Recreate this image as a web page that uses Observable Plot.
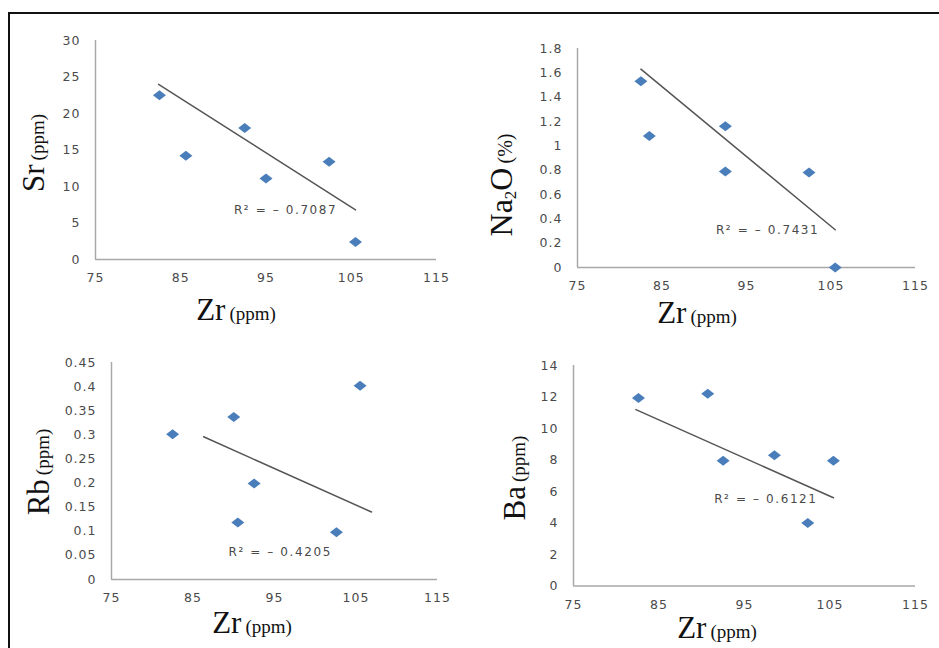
<!DOCTYPE html>
<html>
<head>
<meta charset="utf-8">
<script src="https://cdn.jsdelivr.net/npm/d3@7"></script>
<script src="https://cdn.jsdelivr.net/npm/@observablehq/plot@0.6"></script>
<style>
  body { margin: 0; background: #fff; }
  #wrap { position: relative; width: 939px; height: 648px; overflow: hidden; background: #fff; }
  .frameTop { position: absolute; left: 8px; top: 12px; width: 931px; height: 2px; background: #111; }
  .frameLeft { position: absolute; left: 8px; top: 12px; width: 2px; height: 636px; background: #111; }
  .panel { position: absolute; }
  .lab { position: absolute; font-family: "Liberation Serif", "Times New Roman", serif; color: #111; white-space: nowrap; line-height: 1; }
  .ylab { transform: translate(-50%, -50%) rotate(-90deg); }
  .xlab { transform: translate(-50%, -50%); }
  .big { font-size: 31px; }
  .small { font-size: 19px; }
  .lab sub { font-size: 17px; line-height: 0; vertical-align: -4px; }
</style>
</head>
<body>
<div id="wrap">
  <div class="frameTop"></div>
  <div class="frameLeft"></div>
  <div class="lab ylab" style="left:33px;top:153px;"><span class="big">Sr</span> <span class="small">(ppm)</span></div>
  <div class="lab xlab" style="left:236px;top:309px;"><span class="big">Zr</span> <span class="small">(ppm)</span></div>
  <div class="lab ylab" style="left:501px;top:185px;"><span class="big" style="font-size:32px">Na<sub>2</sub>O</span> <span class="small" style="font-size:20px">(%)</span></div>
  <div class="lab xlab" style="left:697px;top:312px;"><span class="big">Zr</span> <span class="small">(ppm)</span></div>
  <div class="lab ylab" style="left:38px;top:472px;"><span class="big">Rb</span> <span class="small">(ppm)</span></div>
  <div class="lab xlab" style="left:252px;top:622px;"><span class="big">Zr</span> <span class="small">(ppm)</span></div>
  <div class="lab ylab" style="left:514px;top:478px;"><span class="big">Ba</span> <span class="small">(ppm)</span></div>
  <div class="lab xlab" style="left:717px;top:627px;"><span class="big">Zr</span> <span class="small">(ppm)</span></div>
</div>
<script>
// ---- data ----
const zrTicks = [75, 85, 95, 105, 115];

const srZr = [82.5, 85.6, 92.5, 95.0, 102.4, 105.5];
const srVal = [22.5, 14.2, 18.0, 11.1, 13.4, 2.4];
const srTrendZr = [82.4, 105.5];
const srTrendVal = [24.0, 6.8];
const srTicks = [0, 5, 10, 15, 20, 25, 30];
const srR2 = "R² = – 0.7087";
const srR2Pos = [97.3, 6.7];

const naZr = [82.5, 83.5, 92.5, 92.5, 102.4, 105.5];
const naVal = [1.53, 1.08, 1.16, 0.79, 0.78, 0.0];
const naTrendZr = [82.5, 105.5];
const naTrendVal = [1.63, 0.31];
const naTicks = [0, 0.2, 0.4, 0.6, 0.8, 1, 1.2, 1.4, 1.6, 1.8];
const naR2 = "R² = – 0.7431";
const naR2Pos = [97.5, 0.31];

const rbZr = [82.5, 90.0, 90.5, 92.5, 102.6, 105.5];
const rbVal = [0.301, 0.337, 0.118, 0.199, 0.098, 0.402];
const rbTrendZr = [86.3, 106.9];
const rbTrendVal = [0.296, 0.14];
const rbTicks = [0, 0.05, 0.1, 0.15, 0.2, 0.25, 0.3, 0.35, 0.4, 0.45];
const rbR2 = "R² = – 0.4205";
const rbR2Pos = [95.7, 0.057];

const baZr = [82.6, 90.7, 92.5, 98.5, 102.4, 105.4];
const baVal = [11.93, 12.2, 7.96, 8.3, 4.0, 7.96];
const baTrendZr = [82.3, 105.4];
const baTrendVal = [11.2, 5.6];
const baTicks = [0, 2, 4, 6, 8, 10, 12, 14];
const baR2 = "R² = – 0.6121";
const baR2Pos = [97.5, 5.54];

// flattened diamond marker
const diamond = {
  draw(ctx) {
    const w = 6.5, h = 5;
    ctx.moveTo(0, -h); ctx.lineTo(w, 0); ctx.lineTo(0, h); ctx.lineTo(-w, 0); ctx.closePath();
  }
};

const fmt = d => String(+(+d).toFixed(2));

function panel(cfg) {
  const pts = cfg.xs.map((x, i) => ({x, y: cfg.ys[i]}));
  const trend = cfg.tx.map((x, i) => ({x, y: cfg.ty[i]}));
  const lab = [{x: cfg.r2pos[0], y: cfg.r2pos[1], t: cfg.r2}];
  const svg = Plot.plot({
    width: cfg.width, height: cfg.height,
    marginLeft: cfg.ml, marginRight: cfg.width - cfg.xr,
    marginTop: cfg.mt, marginBottom: cfg.height - cfg.yb,
    style: {fontFamily: "DejaVu Sans", fontSize: "12.5px", color: "#4a4a4a", background: "transparent", overflow: "visible", letterSpacing: "1px"},
    x: {domain: [75, 115], ticks: zrTicks, tickSize: 0, tickPadding: 14, label: null},
    y: {domain: [cfg.ticks[0], cfg.ticks[cfg.ticks.length - 1]], ticks: cfg.ticks, tickSize: 0, tickPadding: 15, label: null, tickFormat: fmt},
    marks: [
      Plot.ruleX([75], {stroke: "#a8a8a8", strokeWidth: 1.5}),
      Plot.ruleY([cfg.ticks[0]], {stroke: "#a8a8a8", strokeWidth: 1.5}),
      Plot.line(trend, {x: "x", y: "y", stroke: "#555", strokeWidth: 1.5}),
      Plot.dot(pts, {x: "x", y: "y", symbol: diamond, r: 5, fill: "#4a7ebb", stroke: "none"}),
      Plot.text(lab, {x: "x", y: "y", text: "t", fill: "#4a4a4a", fontSize: 12, className: "r2lab"})
    ]
  });
  d3.select(svg).selectAll(".r2lab text").style("letter-spacing", "1.6px");
  svg.classList.add("panel");
  svg.style.left = cfg.left + "px";
  svg.style.top = cfg.top + "px";
  svg.style.position = "absolute";
  document.getElementById("wrap").appendChild(svg);
}

panel({left: 0, top: 0, width: 470, height: 330, ml: 95, xr: 436, mt: 40, yb: 259,
  xs: srZr, ys: srVal, tx: srTrendZr, ty: srTrendVal, ticks: srTicks, r2: srR2, r2pos: srR2Pos});
panel({left: 470, top: 0, width: 469, height: 330, ml: 107, xr: 445, mt: 48, yb: 267,
  xs: naZr, ys: naVal, tx: naTrendZr, ty: naTrendVal, ticks: naTicks, r2: naR2, r2pos: naR2Pos});
panel({left: 0, top: 330, width: 470, height: 318, ml: 111, xr: 437, mt: 32, yb: 249,
  xs: rbZr, ys: rbVal, tx: rbTrendZr, ty: rbTrendVal, ticks: rbTicks, r2: rbR2, r2pos: rbR2Pos});
panel({left: 470, top: 330, width: 469, height: 318, ml: 103, xr: 445, mt: 35, yb: 255.5,
  xs: baZr, ys: baVal, tx: baTrendZr, ty: baTrendVal, ticks: baTicks, r2: baR2, r2pos: baR2Pos});
</script>
</body>
</html>
